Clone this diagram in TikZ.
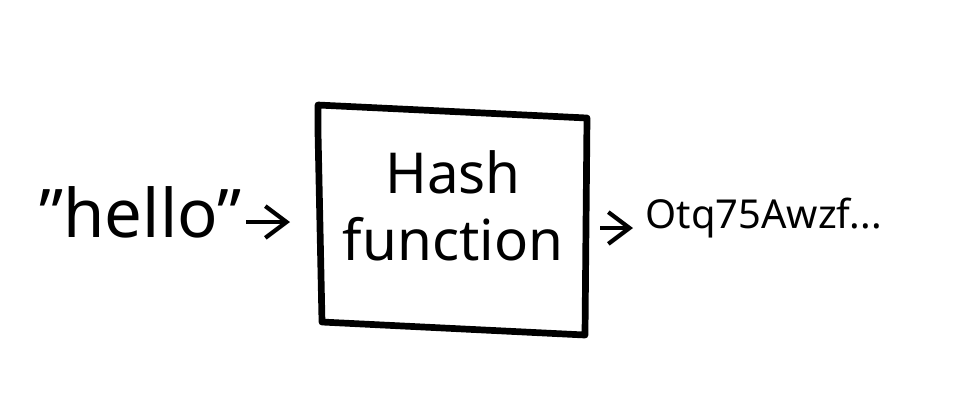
\documentclass[tikz,border=0pt]{standalone}
\usepackage{fontspec}
\setmainfont{Noto Sans}
\usetikzlibrary{arrows.meta}
\tikzset{
    hand/.style = {line width = 1.9pt, line join = round, line cap = round},
    link/.style = {line width = 1.2pt, -{Straight Barb[length=6pt, width=9pt]}},
}
\begin{document}
\begin{tikzpicture}[x = 1pt, y = -1pt, scale = .2834]
    \useasboundingbox (0, 0) rectangle (960, 408);
    %% box
    \draw[hand] (318, 132) -- (318, 105) -- (587, 118) -- (585, 335) -- (322, 322) -- cycle;
    \node (hash) at (453, 212) {\fontsize{16pt}{21pt}\selectfont
        \begin{tabular}{c}Hash\\[-2pt]function\end{tabular}};

    %% in and out
    \node[anchor = east, inner sep = 0] (input) at (242, 212) {\fontsize{19pt}{24pt}\selectfont \symbol{34}hello\symbol{34}};
    \node[anchor = west, inner sep = 0] (output) at (645, 218) {\fontsize{11.3pt}{15pt}\selectfont Otq75Awzf...};
    \coordinate (inA) at (246, 222);
    \coordinate (inB) at (290, 222);
    \coordinate (outA) at (600, 228);
    \coordinate (outB) at (633, 228);
    \draw[link] (inA) -- (inB);
    \draw[link] (outA) -- (outB);
\end{tikzpicture}
\end{document}
